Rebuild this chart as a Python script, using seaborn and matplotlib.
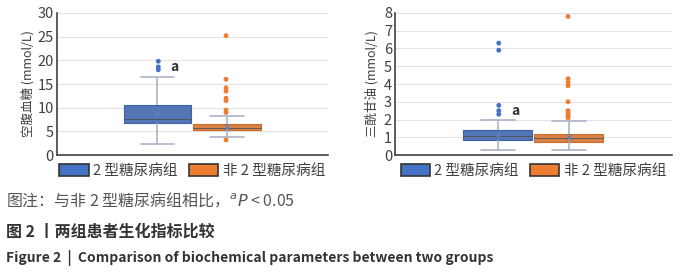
import matplotlib
matplotlib.use("Agg")
import matplotlib.pyplot as plt
import matplotlib.patches as mpatches
import numpy as np
import pandas as pd
import seaborn as sns

sns.set_style("white")
plt.rcParams['font.family'] = ['Noto Sans CJK SC', 'DejaVu Sans']

# groups and colours
groups = ["2 型糖尿病组", "非 2 型糖尿病组"]
colors = ["#4472C4", "#ED7D31"]

# five-number summaries (min whisker, Q1, median, Q3, max whisker)
fpg_t2dm = [2.3, 6.7, 7.6, 10.6, 16.5]
fpg_non = [3.8, 5.3, 5.8, 6.5, 8.2]
tg_t2dm = [0.3, 0.85, 1.1, 1.4, 2.0]
tg_non = [0.3, 0.75, 0.95, 1.2, 1.9]

# outliers
fpg_t2dm_out = [18.0, 18.6, 19.8]
fpg_non_out = [3.2, 9.0, 9.5, 11.5, 12.0, 13.5, 14.2, 16.0, 25.2]
tg_t2dm_out = [2.3, 2.5, 2.8, 5.9, 6.3]
tg_non_out = [2.1, 2.2, 2.3, 2.4, 2.5, 3.0, 3.9, 4.1, 4.3, 7.8]

ylabels = ["空腹血糖 (mmol/L)", "三酰甘油 (mmol/L)"]


def frame(a, b):
    return pd.DataFrame({
        "x": "all",
        "group": [groups[0]] * len(a) + [groups[1]] * len(b),
        "value": a + b,
    })


fig = plt.figure(figsize=(7, 2.8), dpi=100)
ax1 = fig.add_axes([0.081, 0.446, 0.387, 0.508])
ax2 = fig.add_axes([0.564, 0.446, 0.396, 0.508])

panels = [
    (ax1, frame(fpg_t2dm, fpg_non), frame(fpg_t2dm_out, fpg_non_out), 30, 5, 18.6),
    (ax2, frame(tg_t2dm, tg_non), frame(tg_t2dm_out, tg_non_out), 8, 1, 2.5),
]

for ax, box_df, out_df, ymax, step, a_y in panels:
    for y in np.arange(step, ymax + step / 2, step):
        ax.axhline(y, color="#e3e3e3", lw=0.8, zorder=0)
    sns.boxplot(data=box_df, x="x", y="value", hue="group", hue_order=groups,
                palette=colors, whis=(0, 100), width=0.82, gap=0.03, ax=ax,
                showmeans=True, legend=False,
                boxprops=dict(linewidth=0.8),
                whiskerprops=dict(color="#aab4c8", linewidth=1.2),
                capprops=dict(color="#aab4c8", linewidth=1.2),
                medianprops=dict(linewidth=0.6),
                meanprops=dict(marker="x", markersize=5, markeredgecolor="#5a7fc0",
                               markeredgewidth=0.8))
    for i, patch in enumerate(ax.patches):
        patch.set_edgecolor(["#3a62a8", "#d06a25"][i % 2])
    sns.stripplot(data=out_df, x="x", y="value", hue="group", hue_order=groups,
                  palette=colors, dodge=True, jitter=False, size=3.5,
                  ax=ax, legend=False, zorder=3)
    ax.set_xlim(-0.8, 0.8)
    ax.set_ylim(0, ymax)
    ax.set_yticks(np.arange(0, ymax + 1, step))
    ax.set_xticks([])
    ax.set_xlabel("")
    for side in ["top", "right"]:
        ax.spines[side].set_visible(False)
    ax.spines["left"].set_color("#404040")
    ax.spines["bottom"].set_color("#404040")
    ax.spines["left"].set_linewidth(1.2)
    ax.spines["bottom"].set_linewidth(1.2)
    ax.tick_params(axis="y", length=0, labelsize=10.5, colors="#404040", pad=2)
    ax.text(-0.13, a_y, "a", fontsize=10, fontweight="bold", color="#333333",
            va="center", ha="left")
    handles = [mpatches.Patch(facecolor=c, edgecolor="#333333", lw=1.2) for c in colors]
    ax.legend(handles, groups, loc="upper center", bbox_to_anchor=(0.5, 0.03),
              ncol=2, frameon=False, fontsize=10.5, handlelength=2.0,
              handleheight=0.9, handletextpad=0.3, columnspacing=0.8,
              labelcolor="#404040")

ax1.set_ylabel(ylabels[0], fontsize=9, color="#404040", labelpad=2)
ax2.set_ylabel(ylabels[1], fontsize=9, color="#404040", labelpad=4)

fig.text(0.008, 0.285, "图注：与非 2 型糖尿病组相比，$^{a}$$\\it{P}$ < 0.05",
         fontsize=11.5, color="#555555", va="center")
fig.text(0.008, 0.172, "图 2 丨两组患者生化指标比较",
         fontsize=11.5, color="#333333", va="center", fontweight="bold")
fig.text(0.008, 0.077, "Figure 2  |  Comparison of biochemical parameters between two groups",
         fontsize=10, color="#333333", va="center", fontweight="bold")

fig.savefig("out.png", dpi=100)
